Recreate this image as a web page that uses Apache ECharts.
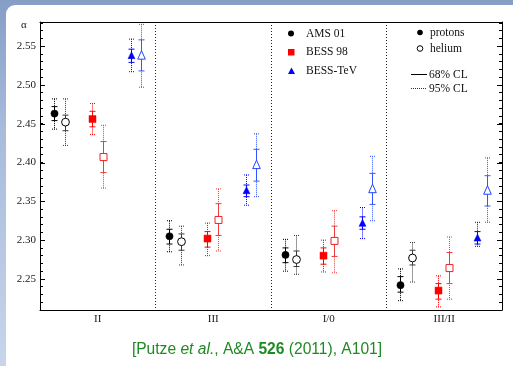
<!DOCTYPE html>
<html>
<head>
<meta charset="utf-8">
<script src="https://cdn.jsdelivr.net/npm/echarts@6.0.0/dist/echarts.min.js"></script>
<style>
  html, body { margin: 0; padding: 0; }
  body { width: 513px; height: 366px; overflow: hidden; position: relative;
         background: linear-gradient(to bottom, #869dc6 0%, #a7bbdc 35%, #c8d5ea 100%); }
  #panel { position: absolute; left: 6px; top: 5px; width: 520px; height: 380px;
           background: #ffffff; border-radius: 9px; }
  #chart { position: absolute; left: 0; top: 0; width: 513px; height: 366px; }
</style>
</head>
<body>
<div id="panel"></div>
<div id="chart"></div>
<script>
// ---------------- data ----------------
const categories = ['II', 'III', 'I/0', 'III/II'];
const majorTicks = [2.25, 2.30, 2.35, 2.40, 2.45, 2.50, 2.55];
const yMin = 2.21, yMax = 2.581;

// each entry: [alpha, lo68, hi68, lo95, hi95]
const ams01Protons = [
  [2.463, 2.454, 2.472, 2.443, 2.482],
  [2.305, 2.295, 2.314, 2.285, 2.325],
  [2.281, 2.271, 2.290, 2.260, 2.301],
  [2.242, 2.233, 2.253, 2.222, 2.263]
];
const ams01Helium = [
  [2.452, 2.441, 2.461, 2.422, 2.482],
  [2.298, 2.287, 2.308, 2.268, 2.318],
  [2.275, 2.266, 2.286, 2.256, 2.306],
  [2.277, 2.268, 2.287, 2.246, 2.297]
];
const bess98Protons = [
  [2.456, 2.446, 2.466, 2.436, 2.476],
  [2.302, 2.291, 2.311, 2.280, 2.322],
  [2.280, 2.269, 2.290, 2.259, 2.300],
  [2.235, 2.224, 2.244, 2.214, 2.254]
];
const bess98Helium = [
  [2.407, 2.387, 2.427, 2.367, 2.448],
  [2.326, 2.306, 2.347, 2.286, 2.366],
  [2.299, 2.279, 2.318, 2.258, 2.338],
  [2.264, 2.244, 2.284, 2.224, 2.304]
];
const bessTeVProtons = [
  [2.537, 2.529, 2.546, 2.517, 2.559],
  [2.363, 2.356, 2.371, 2.345, 2.384],
  [2.321, 2.314, 2.330, 2.302, 2.342],
  [2.302, 2.295, 2.311, 2.292, 2.323]
];
const bessTeVHelium = [
  [2.537, 2.518, 2.558, 2.497, 2.578],
  [2.396, 2.376, 2.417, 2.356, 2.437],
  [2.365, 2.346, 2.386, 2.325, 2.408],
  [2.363, 2.344, 2.383, 2.323, 2.406]
];

// ---------------- styling ----------------
const SERIF = '"Liberation Serif", "DejaVu Serif", serif';
const seriesDefs = [
  { name: 'AMS 01 protons',  data: ams01Protons,   color: '#000000', bar: '#000000', shape: 'circle',   filled: true,  offset: 0.118 },
  { name: 'AMS 01 helium',   data: ams01Helium,    color: '#000000', bar: '#3a3a3a', shape: 'circle',   filled: false, offset: 0.217 },
  { name: 'BESS 98 protons', data: bess98Protons,  color: '#ff0000', bar: '#ff0000', shape: 'square',   filled: true,  offset: 0.447 },
  { name: 'BESS 98 helium',  data: bess98Helium,   color: '#ee2222', bar: '#f03a3a', shape: 'square',   filled: false, offset: 0.543 },
  { name: 'BESS-TeV protons',data: bessTeVProtons, color: '#0000ff', bar: '#0000ff', shape: 'triangle', filled: true,  offset: 0.785 },
  { name: 'BESS-TeV helium', data: bessTeVHelium,  color: '#2244ff', bar: '#3355ff', shape: 'triangle', filled: false, offset: 0.872 }
];

function markerShape(shape, filled, color, x, y) {
  const style = filled ? { fill: color, stroke: color, lineWidth: 0.5 }
                       : { fill: '#ffffff', stroke: color, lineWidth: 1 };
  if (shape === 'circle') {
    return { type: 'circle', shape: { cx: x, cy: y, r: filled ? 3.6 : 3.9 }, style: style };
  }
  if (shape === 'square') {
    return { type: 'rect', shape: { x: x - 3.5, y: y - 3.5, width: 7, height: 7 }, style: style };
  }
  if (filled) {
    return { type: 'polygon', shape: { points: [[x, y - 4.5], [x - 3.5, y + 2.5], [x + 3.5, y + 2.5]] }, style: style };
  }
  return { type: 'polygon', shape: { points: [[x, y - 5.5], [x - 3.8, y + 3], [x + 3.8, y + 3]] }, style: style };
}

function makeRender(def) {
  return function (params, api) {
    const x = api.value(0);
    const c = api.coord([x, api.value(1)]);
    const l68 = api.coord([x, api.value(2)])[1];
    const h68 = api.coord([x, api.value(3)])[1];
    const l95 = api.coord([x, api.value(4)])[1];
    const h95 = api.coord([x, api.value(5)])[1];
    const px = Math.round(c[0]) + 0.5;
    const dot = { stroke: def.bar, lineWidth: 1, lineDash: [1, 1] };
    const sol = { stroke: def.bar, lineWidth: 1 };
    const ln = (x1, y1, x2, y2, st) => ({ type: 'line', shape: { x1: x1, y1: y1, x2: x2, y2: y2 }, style: st });
    const children = [
      ln(px, h95, px, l95, dot),
      ln(px - 2.5, h95, px + 2.5, h95, dot),
      ln(px - 2.5, l95, px + 2.5, l95, dot),
      ln(px, h68, px, l68, sol),
      ln(px - 3, h68, px + 3, h68, sol),
      ln(px - 3, l68, px + 3, l68, sol),
      markerShape(def.shape, def.filled, def.color, px, c[1])
    ];
    return { type: 'group', children: children };
  };
}

const series = seriesDefs.map(def => ({
  name: def.name,
  type: 'custom',
  xAxisIndex: 1,
  yAxisIndex: 0,
  renderItem: makeRender(def),
  encode: { x: 0, y: [1, 2, 3, 4, 5] },
  data: def.data.map((v, i) => [i + def.offset].concat(v)),
  z: 5
}));

// major (longer) y ticks on both frame sides
series.push({
  type: 'custom',
  xAxisIndex: 1,
  yAxisIndex: 0,
  silent: true,
  encode: { x: 0, y: 1 },
  data: majorTicks.map(v => [0, v]),
  renderItem: function (params, api) {
    const left = api.coord([0, api.value(1)]);
    const right = api.coord([categories.length, api.value(1)]);
    const y = Math.round(left[1]) + 0.5;
    return { type: 'group', children: [
      { type: 'line', shape: { x1: left[0], y1: y, x2: left[0] + 5, y2: y }, style: { stroke: '#000', lineWidth: 1 } },
      { type: 'line', shape: { x1: right[0], y1: y, x2: right[0] - 5, y2: y }, style: { stroke: '#000', lineWidth: 1 } }
    ] };
  },
  z: 4
});

const legendText = { font: '11.5px ' + SERIF, fill: '#111', verticalAlign: 'middle', align: 'left' };

const option = {
  backgroundColor: 'transparent',
  animation: false,
  grid: { left: 40, right: 11, top: 22, bottom: 56 },
  xAxis: [
    {
      type: 'category',
      data: categories,
      boundaryGap: true,
      position: 'bottom',
      axisLine: { show: true, lineStyle: { color: '#000', width: 1 } },
      axisTick: { show: false },
      axisLabel: { fontFamily: SERIF, fontSize: 11, color: '#1a1a1a', margin: 4 },
      splitLine: { show: true, lineStyle: { color: '#222', type: [1, 2], width: 1 } }
    },
    {
      type: 'value',
      min: 0, max: categories.length,
      position: 'top',
      axisLine: { show: true, onZero: false, lineStyle: { color: '#000', width: 1 } },
      axisTick: { show: false },
      axisLabel: { show: false },
      splitLine: { show: false }
    }
  ],
  yAxis: [
    {
      type: 'value',
      min: yMin, max: yMax, interval: 0.01,
      position: 'left',
      axisLine: { show: true, onZero: false, lineStyle: { color: '#000', width: 1 } },
      axisTick: { show: true, inside: true, length: 3, lineStyle: { color: '#000' } },
      axisLabel: {
        fontFamily: SERIF, fontSize: 11, color: '#1a1a1a', margin: 4,
        formatter: function (v) {
          const k = Math.round(v * 100);
          return (k % 5 === 0) ? (k / 100).toFixed(2) : '';
        }
      },
      splitLine: { show: false }
    },
    {
      type: 'value',
      min: yMin, max: yMax, interval: 0.01,
      position: 'right',
      axisLine: { show: true, onZero: false, lineStyle: { color: '#000', width: 1 } },
      axisTick: { show: true, inside: true, length: 3, lineStyle: { color: '#000' } },
      axisLabel: { show: false },
      splitLine: { show: false }
    }
  ],
  graphic: [
    { type: 'text', x: 24, y: 25, style: { text: 'α', font: '11px ' + SERIF, fill: '#222', align: 'center', verticalAlign: 'middle' } },
    // legend box 1
    { type: 'circle', shape: { cx: 291, cy: 33.5, r: 3 }, style: { fill: '#000' } },
    { type: 'text', x: 306, y: 33.5, style: Object.assign({ text: 'AMS 01' }, legendText) },
    { type: 'rect', shape: { x: 288, y: 49, width: 6.5, height: 6.5 }, style: { fill: '#ff0000' } },
    { type: 'text', x: 306, y: 52, style: Object.assign({ text: 'BESS 98' }, legendText) },
    { type: 'polygon', shape: { points: [[291.5, 67.5], [288, 74], [295, 74]] }, style: { fill: '#0000ff' } },
    { type: 'text', x: 306, y: 71, style: Object.assign({ text: 'BESS-TeV' }, legendText) },
    // legend box 2
    { type: 'circle', shape: { cx: 420, cy: 32.5, r: 2.8 }, style: { fill: '#000' } },
    { type: 'text', x: 430, y: 32.5, style: Object.assign({ text: 'protons' }, legendText) },
    { type: 'circle', shape: { cx: 420, cy: 48.5, r: 2.8 }, style: { fill: '#fff', stroke: '#000', lineWidth: 1 } },
    { type: 'text', x: 430, y: 48.5, style: Object.assign({ text: 'helium' }, legendText) },
    { type: 'line', shape: { x1: 411, y1: 74.5, x2: 427, y2: 74.5 }, style: { stroke: '#000', lineWidth: 1 } },
    { type: 'text', x: 429, y: 74.5, style: Object.assign({ text: '68% CL' }, legendText) },
    { type: 'line', shape: { x1: 411, y1: 88.5, x2: 427, y2: 88.5 }, style: { stroke: '#333', lineWidth: 1, lineDash: [1, 1] } },
    { type: 'text', x: 429, y: 88.5, style: Object.assign({ text: '95% CL' }, legendText) },
    // citation
    {
      type: 'text', x: 257, y: 350,
      style: {
        text: '[Putze {i|et al.}, A&A {b|526} (2011), A101]',
        font: '15.6px "Liberation Sans", "DejaVu Sans", sans-serif',
        fill: '#1f8a24', align: 'center', verticalAlign: 'middle',
        rich: {
          i: { fontStyle: 'italic', fontSize: 15.6, fontFamily: '"Liberation Sans", sans-serif', fill: '#1f8a24' },
          b: { fontWeight: 'bold', fontSize: 15.6, fontFamily: '"Liberation Sans", sans-serif', fill: '#1f8a24' }
        }
      }
    }
  ],
  series: series
};

const chart = echarts.init(document.getElementById('chart'), null, { renderer: 'canvas' });
chart.setOption(option);
</script>
</body>
</html>
